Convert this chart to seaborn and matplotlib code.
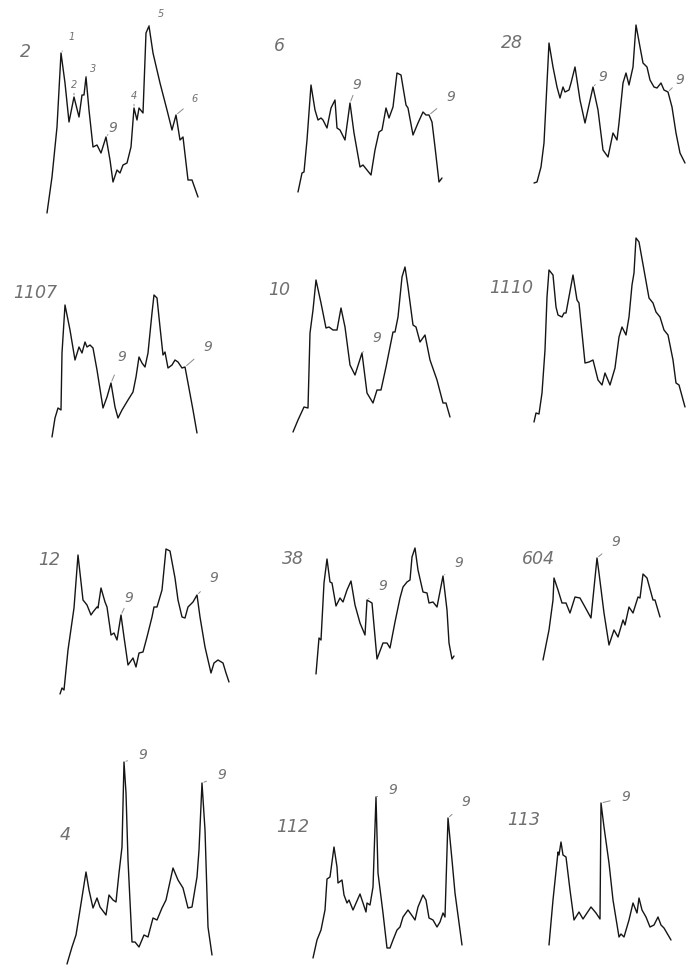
import matplotlib
matplotlib.use("Agg")
import matplotlib.pyplot as plt
import pandas as pd
import seaborn as sns

sns.set_theme(style="white")
plt.rcParams['font.family'] = ['DejaVu Sans']

# ---- densitometer scans: position along the scan / optical density ----
scan_2_pos = [47, 52, 57, 61, 65, 69, 74, 79, 82, 84, 86, 89, 93, 97, 101, 106, 110, 113, 117, 120,
              123, 127, 131, 134, 137, 139, 143, 146, 149, 153, 160, 167, 172, 176, 180, 183, 188, 192, 198]
scan_2_od = [7, 43, 93, 167, 137, 98, 123, 103, 125, 125, 143, 110, 73, 75, 67, 83, 60, 38, 50, 47,
             55, 57, 73, 112, 100, 112, 107, 187, 194, 167, 137, 110, 90, 105, 80, 83, 40, 40, 23]

scan_6_pos = [68, 72, 74, 77, 81, 85, 88, 91, 93, 97, 101, 105, 107, 110, 115, 120, 124, 130, 133, 137,
              141, 145, 149, 152, 156, 159, 163, 167, 171, 176, 178, 183, 188, 193, 196, 199, 202, 205, 209, 212]
scan_6_od = [28, 47, 48, 80, 135, 110, 100, 102, 100, 92, 112, 120, 92, 90, 80, 117, 87, 53, 55, 50,
             45, 70, 88, 90, 112, 102, 113, 147, 145, 115, 112, 85, 97, 108, 105, 105, 98, 73, 38, 42]

scan_28_pos = [78, 81, 85, 88, 91, 93, 97, 101, 104, 107, 109, 113, 115, 119, 124, 129, 137, 142, 147, 152,
               157, 161, 163, 167, 170, 173, 177, 180, 184, 187, 191, 194, 198, 201, 205, 208, 212, 216, 220, 224, 229]
scan_28_od = [37, 38, 53, 77, 137, 177, 153, 133, 122, 133, 128, 130, 137, 153, 120, 97, 133, 110, 70, 63,
              87, 80, 97, 137, 147, 135, 153, 195, 173, 157, 153, 140, 133, 132, 137, 130, 128, 113, 87, 67, 57]

scan_1107_pos = [52, 55, 58, 61, 62, 65, 70, 75, 79, 82, 85, 87, 90, 93, 97, 103, 107, 111, 115, 118, 122,
                 125, 128, 133, 136, 139, 142, 145, 148, 152, 154, 157, 160, 163, 165, 168, 172, 175, 178,
                 182, 185, 188, 193, 197]
scan_1107_od = [3, 22, 32, 30, 87, 135, 110, 80, 93, 87, 98, 93, 95, 92, 70, 32, 43, 57, 33, 22, 30,
                35, 40, 48, 63, 83, 77, 73, 87, 127, 145, 142, 113, 85, 88, 72, 75, 80, 78,
                72, 73, 57, 30, 7]

scan_10_pos = [63, 68, 74, 78, 80, 83, 86, 91, 96, 99, 103, 107, 111, 115, 120, 125, 132, 137, 143, 147,
               151, 156, 163, 165, 168, 172, 175, 178, 183, 186, 190, 195, 200, 207, 213, 216, 220]
scan_10_od = [8, 20, 33, 32, 107, 130, 160, 137, 112, 113, 110, 110, 132, 113, 75, 65, 87, 47, 37, 50,
              50, 73, 108, 108, 123, 163, 173, 153, 115, 113, 98, 105, 80, 60, 37, 37, 23]

scan_1110_pos = [78, 80, 83, 86, 89, 91, 93, 97, 100, 102, 106, 108, 110, 117, 121, 123, 129, 133, 137, 142,
                 146, 149, 154, 159, 163, 166, 170, 173, 176, 178, 180, 183, 188, 193, 197, 200, 204, 208,
                 212, 217, 220, 223, 229]
scan_1110_od = [18, 27, 26, 47, 90, 143, 170, 165, 133, 125, 123, 127, 127, 165, 140, 137, 77, 78, 80, 60,
                55, 67, 55, 72, 103, 113, 105, 123, 155, 167, 202, 198, 170, 142, 137, 128, 123, 110,
                105, 80, 57, 55, 33]

scan_12_pos = [60, 62, 64, 68, 74, 78, 83, 87, 91, 93, 97, 98, 101, 105, 107, 111, 114, 117, 121, 124, 128,
               133, 136, 139, 143, 147, 152, 154, 157, 162, 166, 170, 175, 178, 182, 185, 188, 193, 197,
               200, 205, 211, 214, 218, 223, 226, 229]
scan_12_od = [16, 22, 20, 60, 102, 155, 110, 105, 95, 98, 103, 102, 122, 108, 103, 75, 77, 70, 95, 73, 45,
              52, 43, 57, 58, 73, 93, 103, 103, 120, 161, 159, 132, 110, 93, 92, 103, 108, 115,
              93, 63, 37, 47, 50, 47, 37, 28]

scan_38_pos = [86, 89, 91, 94, 97, 100, 102, 106, 110, 113, 117, 121, 125, 130, 135, 137, 142, 147, 153, 157,
               160, 165, 170, 173, 177, 180, 182, 185, 188, 193, 197, 199, 203, 207, 213, 217, 219, 222, 224]
scan_38_od = [36, 72, 70, 127, 151, 128, 127, 104, 112, 108, 120, 129, 105, 87, 75, 110, 107, 51, 67, 67,
              62, 88, 112, 123, 128, 130, 153, 162, 140, 118, 117, 107, 108, 103, 134, 100, 67, 51, 54]

scan_604_pos = [87, 93, 97, 98, 102, 106, 110, 114, 119, 124, 129, 135, 141, 143, 148, 153, 158, 162, 167,
                169, 173, 177, 182, 184, 187, 191, 197, 199, 204]
scan_604_od = [50, 80, 110, 132, 120, 107, 107, 97, 113, 112, 103, 92, 152, 137, 97, 65, 80, 73, 90,
               85, 103, 97, 113, 112, 136, 132, 110, 110, 93]

scan_4_pos = [67, 72, 76, 80, 86, 89, 93, 97, 100, 106, 109, 113, 116, 119, 122, 124, 126, 128, 132, 135,
              139, 144, 148, 153, 157, 162, 166, 173, 178, 183, 188, 192, 197, 199, 202, 205, 208, 212]
scan_4_od = [3, 20, 32, 57, 95, 77, 59, 69, 60, 52, 72, 67, 65, 94, 120, 205, 174, 107, 25, 25,
             20, 32, 30, 49, 47, 59, 67, 99, 87, 79, 59, 60, 90, 117, 184, 137, 40, 12]

scan_112_pos = [83, 87, 91, 95, 97, 100, 104, 107, 108, 112, 114, 117, 119, 123, 130, 136, 137, 140, 143,
                146, 148, 153, 157, 160, 163, 167, 170, 173, 178, 183, 185, 188, 193, 196, 199, 203, 207,
                210, 213, 215, 218, 222, 225, 232]
scan_112_od = [9, 27, 37, 57, 88, 90, 120, 100, 84, 87, 72, 64, 67, 57, 73, 55, 64, 62, 80,
               170, 94, 54, 19, 19, 27, 37, 40, 50, 57, 50, 47, 60, 72, 67, 49, 47, 40,
               45, 54, 50, 149, 107, 74, 22]

scan_113_pos = [93, 97, 102, 103, 105, 107, 110, 114, 118, 123, 127, 131, 135, 140, 144, 145, 148, 153, 157,
                163, 165, 168, 173, 177, 181, 183, 186, 190, 194, 198, 202, 205, 208, 215]
scan_113_od = [22, 67, 115, 112, 125, 112, 110, 77, 47, 55, 48, 54, 60, 54, 48, 164, 140, 104, 67,
               30, 33, 30, 47, 64, 54, 69, 57, 50, 40, 42, 50, 42, 39, 27]

# panel names and peak labels: (label, peak position, label x, label y)
panel_names = ["2", "6", "28", "1107", "10", "1110", "12", "38", "604", "4", "112", "113"]
scan_pos = [scan_2_pos, scan_6_pos, scan_28_pos, scan_1107_pos, scan_10_pos, scan_1110_pos,
            scan_12_pos, scan_38_pos, scan_604_pos, scan_4_pos, scan_112_pos, scan_113_pos]
scan_od = [scan_2_od, scan_6_od, scan_28_od, scan_1107_od, scan_10_od, scan_1110_od,
           scan_12_od, scan_38_od, scan_604_od, scan_4_od, scan_112_od, scan_113_od]
peak_labels = [
    [("1", 61, 72, 183), ("2", 74, 74, 135), ("3", 86, 93, 151), ("9", 106, 113, 92),
     ("4", 134, 134, 124), ("5", 149, 161, 206), ("6", 176, 195, 121)],
    [("9", 120, 127, 135), ("9", 199, 221, 123)],
    [("9", 137, 147, 143), ("9", 212, 224, 140)],
    [("9", 111, 122, 83), ("9", 185, 208, 93)],
    [("9", 132, 147, 102)],
    [],
    [("9", 121, 129, 112), ("9", 197, 214, 132)],
    [("9", 137, 153, 124), ("9", 213, 229, 147)],
    [("9", 141, 160, 168)],
    [("9", 124, 143, 212), ("9", 202, 222, 192)],
    [("9", 146, 163, 177), ("9", 218, 236, 165)],
    [("9", 145, 170, 170)],
]
name_xy = [(25, 168), (49, 174), (56, 177), (35, 147), (49, 150), (55, 152),
           (49, 150), (63, 151), (82, 151), (65, 132), (63, 140), (68, 147)]

# ---- layout (pixels) ----
W, H = 686, 967
col_left = [0, 230, 456]
row_bottom = [220, 440, 710, 967]
row_height = [220, 220, 210, 247]
col_width = 230

fig = plt.figure(figsize=(W / 100, H / 100), dpi=100)
fig.patch.set_facecolor("white")

label_color = "#707070"
for i, name in enumerate(panel_names):
    r, c = divmod(i, 3)
    left = col_left[c] / W
    bottom = 1 - row_bottom[r] / H
    ax = fig.add_axes([left, bottom, col_width / W, row_height[r] / H])
    df = pd.DataFrame({"pos": scan_pos[i], "od": scan_od[i]})
    sns.lineplot(data=df, x="pos", y="od", ax=ax, color="#151515", linewidth=1.0,
                 estimator=None, sort=False)
    for ln in ax.lines:
        ln.set_clip_on(False)
    ax.set_xlim(0, col_width)
    ax.set_ylim(0, row_height[r])
    ax.set_axis_off()

    nx, ny = name_xy[i]
    ax.text(nx, ny, name, fontsize=12.5, style="italic", color=label_color,
            ha="center", va="center", fontweight="light")

    for txt, px, tx, ty in peak_labels[i]:
        py = scan_od[i][scan_pos[i].index(px)]
        small = txt != "9"
        ax.annotate(txt, xy=(px, py), xytext=(tx, ty), textcoords="data",
                    fontsize=7 if small else 10, style="italic", color=label_color,
                    ha="center", va="center", annotation_clip=False,
                    arrowprops=dict(arrowstyle="-", color="#8a8a8a", lw=0.7,
                                    shrinkA=5 if small else 6, shrinkB=1.5))

fig.savefig("out.png", dpi=100, facecolor="white")
